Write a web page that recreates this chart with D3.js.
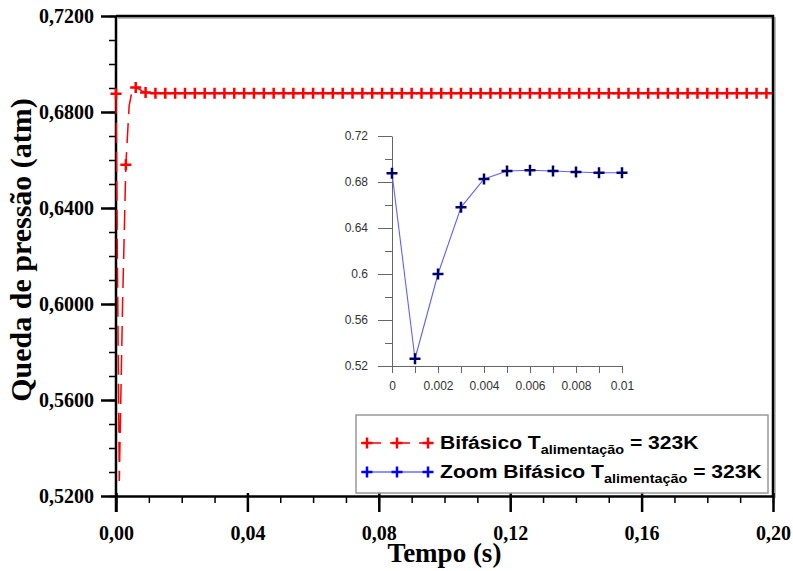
<!DOCTYPE html>
<html>
<head>
<meta charset="utf-8">
<script src="https://cdn.jsdelivr.net/npm/d3@7"></script>
<style>
  body { margin: 0; background: #fff; }
  text { white-space: pre; }
</style>
</head>
<body>
<div id="chart"></div>
<script>
// zoom: first 0.01 s of the run
var zoomTime = [0, 0.001, 0.002, 0.003, 0.004, 0.005, 0.006, 0.007, 0.008, 0.009, 0.010];
var zoomDrop = [0.6876, 0.5263, 0.6000, 0.6580, 0.6826, 0.6896, 0.6902, 0.6896, 0.6887, 0.6881, 0.6881];

// rest of the run (sampled every 0.003 s)
var tailTime = d3.range(12, 199, 3).map(function(v){ return v / 1000; });
var tailDrop = [0.6878, 0.6878, 0.6878, 0.6878, 0.6878, 0.6878, 0.6878, 0.6878, 0.6878, 0.6878,
                0.6878, 0.6878, 0.6878, 0.6878, 0.6878, 0.6878, 0.6878, 0.6878, 0.6878, 0.6878,
                0.6878, 0.6878, 0.6878, 0.6878, 0.6878, 0.6878, 0.6878, 0.6878, 0.6878, 0.6878,
                0.6878, 0.6878, 0.6878, 0.6878, 0.6878, 0.6878, 0.6878, 0.6878, 0.6878, 0.6878,
                0.6878, 0.6878, 0.6878, 0.6878, 0.6878, 0.6878, 0.6878, 0.6878, 0.6878, 0.6878,
                0.6878, 0.6878, 0.6878, 0.6878, 0.6878, 0.6878, 0.6878, 0.6878, 0.6878, 0.6878,
                0.6878, 0.6878, 0.6878];

var xMajor = [0, 0.04, 0.08, 0.12, 0.16, 0.20];
var yMajor = [0.52, 0.56, 0.60, 0.64, 0.68, 0.72];
var zoomXLabels = [0, 0.002, 0.004, 0.006, 0.008, 0.01];
var zoomYMajor = [0.52, 0.56, 0.60, 0.64, 0.68, 0.72];

var legendNames = ["Bifásico T", "Zoom Bifásico T"];

var mainData = zoomTime.map(function(t, i){ return {t: t, v: zoomDrop[i]}; })
  .concat(tailTime.map(function(t, i){ return {t: t, v: tailDrop[i]}; }));
var zoomData = zoomTime.map(function(t, i){ return {t: t, v: zoomDrop[i]}; });

var W = 793, H = 571;
var svg = d3.select("#chart").append("svg")
    .attr("width", W).attr("height", H);

var br = d3.formatLocale({decimal: ",", thousands: ".", grouping: [3], currency: ["", ""]});

var x = d3.scaleLinear().domain([0, 0.2]).range([116, 773]);
var y = d3.scaleLinear().domain([0.52, 0.72]).range([496, 16]);

var serif = "'Liberation Serif', 'Times New Roman', serif";
var sans = "'Liberation Sans', Arial, sans-serif";

// frame (top and right)
svg.append("path")
    .attr("d", "M" + x(0) + "," + y(0.72) + "H" + x(0.2) + "V" + y(0.52))
    .attr("fill", "none").attr("stroke", "#bbb").attr("stroke-width", 2)
    .attr("transform", "translate(2,2)");
svg.append("path")
    .attr("d", "M" + x(0) + "," + y(0.72) + "H" + x(0.2) + "V" + y(0.52))
    .attr("fill", "none").attr("stroke", "#000").attr("stroke-width", 2.5);

// minor ticks
svg.append("g")
    .attr("transform", "translate(0," + y(0.52) + ")")
    .call(d3.axisBottom(x).tickValues(d3.range(0, 0.2001, 0.01)).tickSize(7).tickFormat(""))
    .call(function(g){ g.select(".domain").remove(); g.selectAll("line").attr("stroke-width", 1.5); });
svg.append("g")
    .attr("transform", "translate(" + x(0) + ",0)")
    .call(d3.axisLeft(y).tickValues(d3.range(0.52, 0.7201, 0.01)).tickSize(7).tickFormat(""))
    .call(function(g){ g.select(".domain").remove(); g.selectAll("line").attr("stroke-width", 1.5); });

// major axes
var xAxis = svg.append("g")
    .attr("transform", "translate(0," + y(0.52) + ")")
    .call(d3.axisBottom(x).tickValues(xMajor).tickSize(16).tickSizeOuter(0).tickPadding(0)
      .tickFormat(br.format(".2f")));
xAxis.select(".domain").attr("stroke-width", 2.5);
xAxis.selectAll(".tick line").attr("stroke-width", 2.5).attr("y1", -3);
xAxis.selectAll(".tick text").attr("font-family", serif).attr("font-weight", "bold")
    .attr("font-size", 20).attr("fill", "#000").attr("y", 44).attr("dy", 0);

var yAxis = svg.append("g")
    .attr("transform", "translate(" + x(0) + ",0)")
    .call(d3.axisLeft(y).tickValues(yMajor).tickSize(15).tickSizeOuter(0).tickPadding(7)
      .tickFormat(br.format(".4f")));
yAxis.select(".domain").attr("stroke-width", 2.5)
    .attr("d", "M0," + y(0.72) + "V" + (y(0.52) + 16));
yAxis.selectAll(".tick line").attr("stroke-width", 2.5);
yAxis.selectAll(".tick text").attr("font-family", serif).attr("font-weight", "bold")
    .attr("font-size", 20).attr("fill", "#000");

// axis titles
svg.append("text")
    .attr("x", (x(0) + x(0.2)) / 2).attr("y", 562)
    .attr("text-anchor", "middle")
    .attr("font-family", serif).attr("font-weight", "bold").attr("font-size", 27)
    .text("Tempo (s)");
svg.append("text")
    .attr("transform", "translate(31,250) rotate(-90)")
    .attr("text-anchor", "middle")
    .attr("font-family", serif).attr("font-weight", "bold").attr("font-size", 30)
    .text("Queda de pressão (atm)");

var plus = "M-5.5,0H5.5M0,-5.5V5.5";

// main series
var line = d3.line().x(function(d){ return x(d.t); }).y(function(d){ return y(d.v); });
svg.append("path")
    .datum(mainData)
    .attr("d", line)
    .attr("fill", "none").attr("stroke", "#ff0000").attr("stroke-width", 1.5)
    .attr("stroke-dasharray", "20,9");
svg.append("g").selectAll("path")
    .data(mainData.filter(function(d){ return Math.round(d.t * 1000) % 3 === 0; }))
    .enter().append("path")
      .attr("d", plus)
      .attr("transform", function(d){ return "translate(" + x(d.t) + "," + y(d.v) + ")"; })
      .attr("stroke", "#ff0000").attr("stroke-width", 2.5);

// inset
var zx = d3.scaleLinear().domain([0, 0.01]).range([392, 622]);
var zy = d3.scaleLinear().domain([0.52, 0.72]).range([366, 136]);
var inset = svg.append("g");

inset.append("g")
    .attr("transform", "translate(" + zx(0) + ",0)")
    .call(d3.axisLeft(zy).tickValues(d3.range(0.54, 0.72, 0.04)).tickSize(7).tickFormat(""))
    .call(function(g){ g.select(".domain").remove(); g.selectAll("line").attr("stroke", "#666"); });

var zyAxis = inset.append("g")
    .attr("transform", "translate(" + zx(0) + ",0)")
    .call(d3.axisLeft(zy).tickValues(zoomYMajor).tickSize(14).tickSizeOuter(0).tickPadding(10)
      .tickFormat(d3.format("~g")));
var zxAxis = inset.append("g")
    .attr("transform", "translate(0," + zy(0.52) + ")")
    .call(d3.axisBottom(zx).tickValues(zoomTime).tickSize(7).tickSizeOuter(0).tickPadding(8)
      .tickFormat(function(d){ return zoomXLabels.some(function(v){ return Math.abs(v - d) < 1e-9; }) ? d3.format("~g")(d) : ""; }));
[zyAxis, zxAxis].forEach(function(g){
  g.select(".domain").attr("stroke", "#666");
  g.selectAll(".tick line").attr("stroke", "#666");
  g.selectAll(".tick text").attr("font-family", sans).attr("font-size", 12).attr("fill", "#333");
});

var zline = d3.line().x(function(d){ return zx(d.t); }).y(function(d){ return zy(d.v); });
inset.append("path")
    .datum(zoomData)
    .attr("d", zline)
    .attr("fill", "none").attr("stroke", "#6060ff").attr("stroke-width", 1.1);
inset.append("g").selectAll("path")
    .data(zoomData)
    .enter().append("path")
      .attr("d", plus)
      .attr("transform", function(d){ return "translate(" + zx(d.t) + "," + zy(d.v) + ")"; })
      .attr("stroke", "#000066").attr("stroke-width", 2.5);

// legend
var legend = svg.append("g");
legend.append("rect")
    .attr("x", 356).attr("y", 415).attr("width", 412).attr("height", 78)
    .attr("fill", "#fff").attr("stroke", "#999").attr("stroke-width", 1.5);

var legendColors = ["#ff0000", "#0000ff"];
var legendLine = ["#ff0000", "#6a6aff"];
var legendDash = ["20,9", null];
var rowY = [443, 472];

legendNames.forEach(function(name, i){
  var ry = rowY[i];
  legend.append("line")
      .attr("x1", 361).attr("x2", 430).attr("y1", ry).attr("y2", ry)
      .attr("stroke", legendLine[i]).attr("stroke-width", 1.5)
      .attr("stroke-dasharray", legendDash[i]);
  legend.selectAll(null).data([367, 397, 428]).enter().append("path")
      .attr("d", plus)
      .attr("transform", function(px){ return "translate(" + px + "," + ry + ")"; })
      .attr("stroke", legendColors[i]).attr("stroke-width", 2.5);
  var t = legend.append("text")
      .attr("transform", "translate(440," + (ry + 6) + ") scale(1.11,1)")
      .attr("font-family", sans).attr("font-weight", "bold").attr("font-size", 19);
  t.append("tspan").text(name);
  t.append("tspan").attr("font-size", 13).attr("dy", 5).text("alimentação");
  t.append("tspan").attr("dy", -5).text(" = 323K");
});
</script>
</body>
</html>
